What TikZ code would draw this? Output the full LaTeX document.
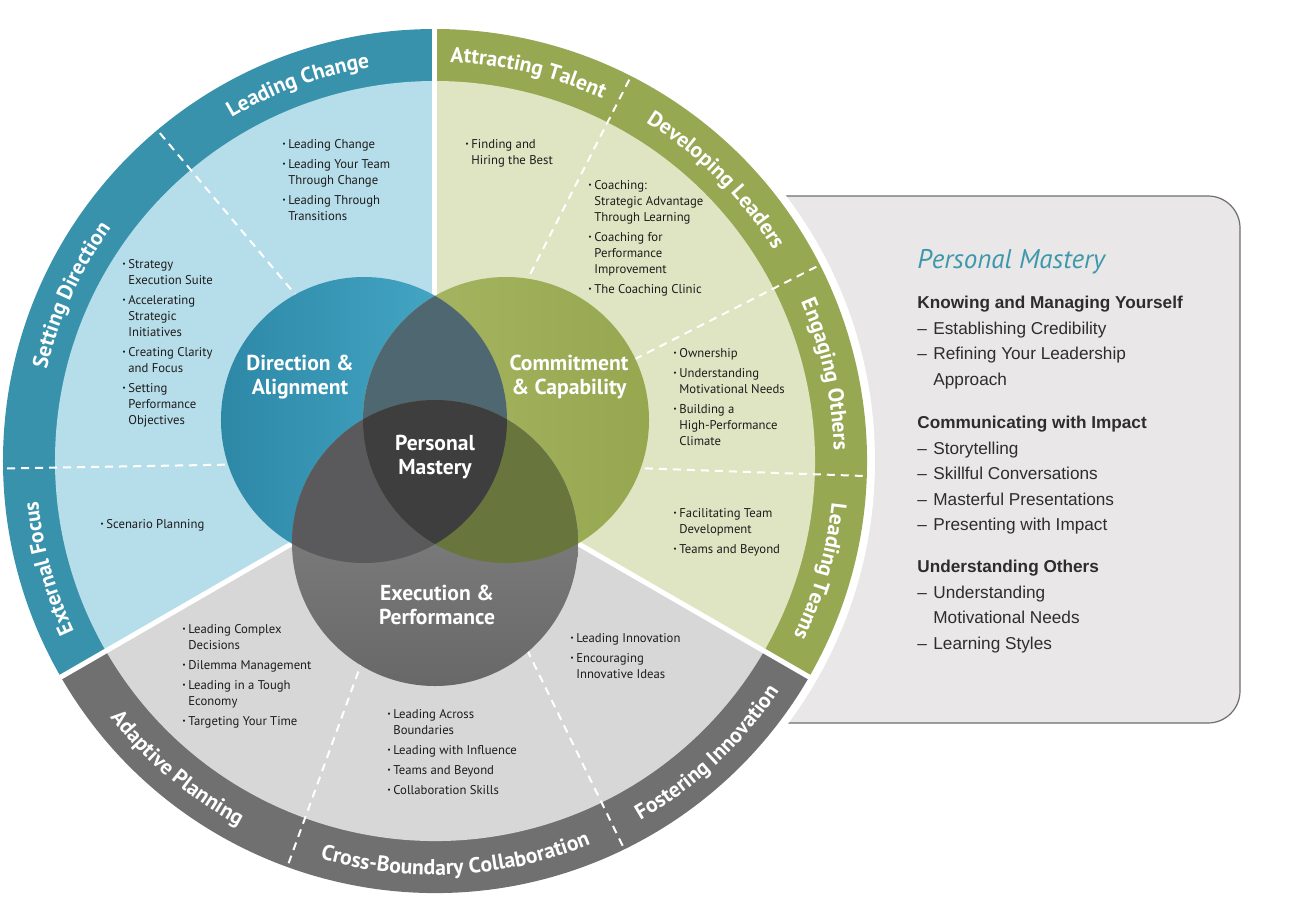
\documentclass[tikz,border=0pt]{standalone}
\usepackage{fontspec}
\setmainfont{PT Sans}
\newfontfamily\panelfont{Liberation Sans}
\usepackage{tikz}
\usetikzlibrary{decorations.text,positioning}
\definecolor{bandblue}{RGB}{56,146,172}
\definecolor{lightblue}{RGB}{182,222,234}
\definecolor{bandgreen}{RGB}{150,168,82}
\definecolor{lightgreen}{RGB}{223,229,194}
\definecolor{bandgrey}{RGB}{112,112,112}
\definecolor{lightgrey}{RGB}{215,215,215}
\definecolor{dirleft}{RGB}{45,136,166}
\definecolor{dirright}{RGB}{74,174,205}
\definecolor{comleft}{RGB}{168,183,100}
\definecolor{comright}{RGB}{150,167,80}
\definecolor{exetop}{RGB}{138,138,138}
\definecolor{exebottom}{RGB}{104,104,104}
\definecolor{dircom}{RGB}{79,103,113}
\definecolor{direxe}{RGB}{90,90,92}
\definecolor{comexe}{RGB}{104,118,62}
\definecolor{pmcore}{RGB}{62,62,62}
\definecolor{listtext}{RGB}{30,27,28}
\definecolor{panelfill}{RGB}{233,231,231}
\definecolor{panelline}{RGB}{110,110,110}
\definecolor{paneltext}{RGB}{45,45,45}
\definecolor{pmteal}{RGB}{62,152,172}
\newcommand{\bandfont}{\bfseries\fontsize{10.8pt}{12pt}\selectfont}
\newcommand{\bul}{\makebox[3pt][l]{\raisebox{0.3ex}{\scalebox{0.6}{\textbullet}}}}
\newcommand{\ind}{\hspace*{3pt}}
\newcommand{\dsh}{\makebox[8pt][l]{\textendash}}
\newcommand{\hng}{\hspace*{8pt}}

\begin{document}
\begin{tikzpicture}
  [
    x=0.5pt, y=0.5pt,
    mainsep/.style={white, line width=2.5pt},
    subsep/.style={white, line width=1pt, dash pattern=on 4pt off 3pt},
    bandcw/.style={decorate, decoration={text along path, text align=center, text color=white, text={|\bandfont|#1}}},
    bandccw/.style={decorate, decoration={text along path, text align=center, text color=white, text={|\bandfont|#1}}},
    lst/.style={anchor=north west, align=left, inner sep=0pt, text=listtext, font=\fontsize{6.35pt}{8pt}\selectfont},
    vlab/.style={align=center, inner sep=0pt, text=white, font=\bfseries\fontsize{10.8pt}{11.8pt}\selectfont},
    sec/.style={anchor=north west, align=left, inner sep=0pt, text=paneltext, font=\panelfont\fontsize{8.6pt}{12.75pt}\selectfont}
  ]
  \useasboundingbox (-435,-441) rectangle (862,461);
  % Panel
  \draw[fill=panelfill, draw=panelline, line width=0.6pt, rounded corners=16pt] (265,-262) rectangle (805,265);
  \fill[white] (0,0) circle (440);
  % Sectors
  \fill[bandblue] (0,0) -- (90:432) arc[start angle=90, end angle=210, radius=432] -- cycle;
  \fill[lightblue] (0,0) -- (90:380) arc[start angle=90, end angle=210, radius=380] -- cycle;
  \fill[bandgreen] (0,0) -- (-30:432) arc[start angle=-30, end angle=90, radius=432] -- cycle;
  \fill[lightgreen] (0,0) -- (-30:380) arc[start angle=-30, end angle=90, radius=380] -- cycle;
  \fill[bandgrey] (0,0) -- (210:432) arc[start angle=210, end angle=330, radius=432] -- cycle;
  \fill[lightgrey] (0,0) -- (210:380) arc[start angle=210, end angle=330, radius=380] -- cycle;
  % Lines
  \draw[subsep] (0,0) -- (130:432);
  \draw[subsep] (0,0) -- (181:432);
  \draw[subsep] (0,0) -- (63:432);
  \draw[subsep] (0,0) -- (27:432);
  \draw[subsep] (0,0) -- (-2:432);
  \draw[subsep] (0,0) -- (250:432);
  \draw[subsep] (0,0) -- (296:432);
  \draw[mainsep] (0,0) -- (90:436);
  \draw[mainsep] (0,0) -- (210:436);
  \draw[mainsep] (0,0) -- (330:436);
  % Circles
  \shade[left color=dirleft, right color=dirright] (150:82) circle (143);
  \shade[left color=comleft, right color=comright] (30:82) circle (143);
  \shade[top color=exetop, bottom color=exebottom] (270:82) circle (143);
  \begin{scope}
    \clip (150:82) circle (143);
    \fill[dircom] (30:82) circle (143);
    \fill[direxe] (270:82) circle (143);
  \end{scope}
  \begin{scope}
    \clip (30:82) circle (143);
    \fill[comexe] (270:82) circle (143);
  \end{scope}
  \begin{scope}
    \clip (150:82) circle (143);
    \clip (30:82) circle (143);
    \fill[pmcore] (270:82) circle (143);
  \end{scope}
  % Band labels
  \path[bandcw={Leading Change}] (130:399) arc[start angle=130, end angle=90, radius=399];
  \path[bandcw={Setting Direction}] (181:399) arc[start angle=181, end angle=130, radius=399];
  \path[bandcw={External Focus}] (210:399) arc[start angle=210, end angle=181, radius=399];
  \path[bandcw={Attracting Talent}] (90:399) arc[start angle=90, end angle=63, radius=399];
  \path[bandcw={Developing Leaders}] (63:399) arc[start angle=63, end angle=27, radius=399];
  \path[bandcw={Engaging Others}] (27:399) arc[start angle=27, end angle=-2, radius=399];
  \path[bandcw={Leading Teams}] (-2:399) arc[start angle=-2, end angle=-30, radius=399];
  \path[bandccw={Adaptive Planning}] (210:414) arc[start angle=210, end angle=250, radius=414];
  \path[bandccw={Cross-Boundary Collaboration}] (250:414) arc[start angle=250, end angle=296, radius=414];
  \path[bandccw={Fostering Innovation}] (296:414) arc[start angle=296, end angle=330, radius=414];
  % Lists
  \node[lst] (lcl) at (-153,322) {\bul Leading Change\\[2pt]
    \bul Leading Your Team\\ \ind Through Change\\[2pt]
    \bul Leading Through\\ \ind Transitions};
  \node[lst] (sdl) at (-313,202) {\bul Strategy\\ \ind Execution Suite\\[2pt]
    \bul Accelerating\\ \ind Strategic\\ \ind Initiatives\\[2pt]
    \bul Creating Clarity\\ \ind and Focus\\[2pt]
    \bul Setting\\ \ind Performance\\ \ind Objectives};
  \node[lst] (efl) at (-335,-58) {\bul Scenario Planning};
  \node[lst] (atl) at (30,322) {\bul Finding and\\ \ind Hiring the Best};
  \node[lst] (dll) at (153,281) {\bul Coaching:\\ \ind Strategic Advantage\\ \ind Through Learning\\[2pt]
    \bul Coaching for\\ \ind Performance\\ \ind Improvement\\[2pt]
    \bul The Coaching Clinic};
  \node[lst] (eol) at (238,113) {\bul Ownership\\[2pt]
    \bul Understanding\\ \ind Motivational Needs\\[2pt]
    \bul Building a\\ \ind High-Performance\\ \ind Climate};
  \node[lst] (ltl) at (238,-47) {\bul Facilitating Team\\ \ind Development\\[2pt]
    \bul Teams and Beyond};
  \node[lst] (apl) at (-253,-163) {\bul Leading Complex\\ \ind Decisions\\[2pt]
    \bul Dilemma Management\\[2pt]
    \bul Leading in a Tough\\ \ind Economy\\[2pt]
    \bul Targeting Your Time};
  \node[lst] (cbl) at (-48,-248) {\bul Leading Across\\ \ind Boundaries\\[2pt]
    \bul Leading with Influence\\[2pt]
    \bul Teams and Beyond\\[2pt]
    \bul Collaboration Skills};
  \node[lst] (fil) at (135,-172) {\bul Leading Innovation\\[2pt]
    \bul Encouraging\\ \ind Innovative Ideas};
  % Circle labels
  \node[vlab] (dal) at (-135,84) {Direction \&\\Alignment};
  \node[vlab] (ccl) at (134,84) {Commitment\\\& Capability};
  \node[vlab] (pml) at (0,4) {Personal\\Mastery};
  \node[vlab] (epl) at (2,-144) {Execution \&\\Performance};
  % Panel text
  \node[anchor=base west, inner sep=0pt, text=pmteal, font=\itshape\fontsize{13.5pt}{15pt}\selectfont] (pmt) at (482,193) {Personal Mastery};
  \node[sec] (kmy) at (482,165) {\textbf{Knowing and Managing Yourself}\\
    \dsh Establishing Credibility\\ \dsh Refining Your Leadership\\ \hng Approach};
  \node[sec] (cwi) at (482,45) {\textbf{Communicating with Impact}\\
    \dsh Storytelling\\ \dsh Skillful Conversations\\ \dsh Masterful Presentations\\ \dsh Presenting with Impact};
  \node[sec] (uot) at (482,-99) {\textbf{Understanding Others}\\
    \dsh Understanding\\ \hng Motivational Needs\\ \dsh Learning Styles};
\end{tikzpicture}
\end{document}
